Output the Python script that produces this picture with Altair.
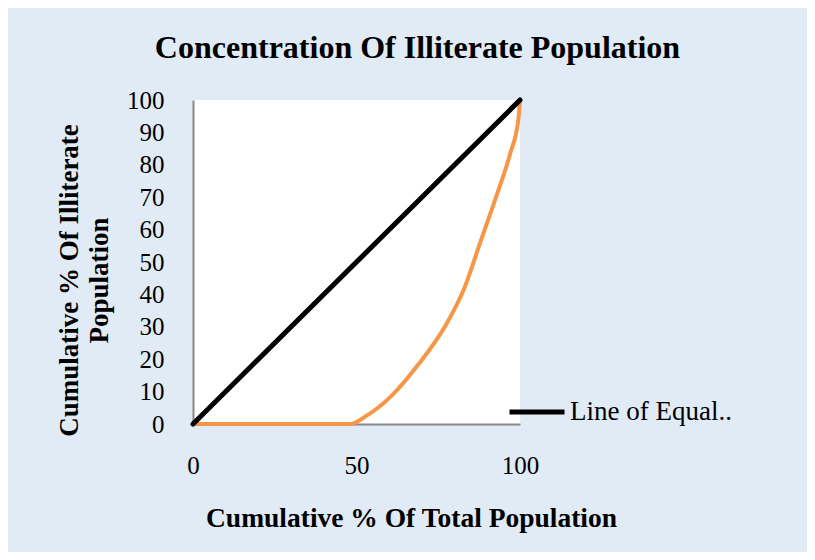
import altair as alt
import pandas as pd

# Data
eq_x = [0, 100]
eq_y = [0, 100]
lorenz_x = [0, 48, 53, 61, 69, 77, 83, 88, 93, 97, 99.5, 100]
lorenz_y = [0, 0, 2.5, 9, 18.5, 30, 42, 56.5, 71, 83.5, 94, 100]
y_ticks = [0, 10, 20, 30, 40, 50, 60, 70, 80, 90, 100]
x_ticks = [0, 50, 100]

eq_df = pd.DataFrame({"x": eq_x, "y": eq_y, "series": ["Line of Equality"] * len(eq_x)})
lz_df = pd.DataFrame({"x": lorenz_x, "y": lorenz_y})

SERIF = "Liberation Serif"

xenc = alt.X("x:Q", scale=alt.Scale(domain=[0, 100], nice=False),
             axis=alt.Axis(values=x_ticks, title="Cumulative % Of Total Population",
                           grid=False, ticks=False, labelPadding=29,
                           labelFlush=False, labelOverlap=False,
                           labelFont=SERIF, labelFontSize=25, labelColor="black",
                           titleFont=SERIF, titleFontSize=27.5, titleFontWeight="bold",
                           titleColor="black", titleX=218, titleY=94,
                           titleBaseline="middle",
                           domainColor="#888888", domainWidth=2))
yenc = alt.Y("y:Q", scale=alt.Scale(domain=[0, 100], nice=False),
             axis=alt.Axis(values=y_ticks, title=["Cumulative % Of Illiterate", "Population"],
                           grid=False, ticks=False, labelPadding=29,
                           labelFlush=False, labelOverlap=False, labelSeparation=0,
                           labelFont=SERIF, labelFontSize=25, labelColor="black",
                           titleFont=SERIF, titleFontSize=27, titleFontWeight="bold",
                           titleColor="black", titleX=-124, titleY=180,
                           titleBaseline="middle", titleLineHeight=30,
                           domainColor="#888888", domainWidth=2))

eq = alt.Chart(eq_df).mark_line(strokeWidth=5, strokeCap="round").encode(
    x=xenc, y=yenc,
    color=alt.Color("series:N",
                    scale=alt.Scale(domain=["Line of Equality"], range=["black"]),
                    legend=alt.Legend(title=None, orient="none", legendX=314, legendY=282,
                                      symbolType="stroke", symbolSize=3025,
                                      symbolStrokeWidth=5, labelFont=SERIF,
                                      labelFontSize=27, labelColor="black",
                                      labelExpr="'Line of Equal..'", labelOffset=3,
                                      labelLimit=400, padding=0)),
)

lz = alt.Chart(lz_df).mark_line(strokeWidth=4, color="#f79646", interpolate="monotone").encode(
    x=xenc, y=yenc
)

chart = alt.layer(lz, eq).properties(
    width=327, height=324,
    autosize=alt.AutoSizeParams(type="none"),
    padding={"left": 185, "top": 92, "right": 287, "bottom": 128},
    background="#e1ebf6",
    title=alt.TitleParams("Concentration Of Illiterate Population", font=SERIF,
                          fontSize=32, fontWeight="bold", color="black",
                          anchor="middle", frame="group", dx=61, offset=23),
).configure_view(fill="white", stroke=None).configure_axis(labelOverlap=False)

chart.save("out.html", embed_options={"renderer": "svg", "actions": False})
